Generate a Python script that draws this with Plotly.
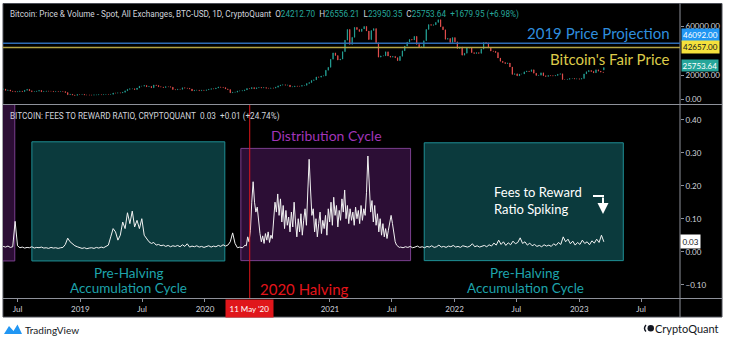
import pandas as pd
import plotly.graph_objects as go

# ---------------- data ----------------
# BTC-USD weekly closes (Sundays), starting 2018-05-20
week_start = "2018-05-20"
first_open = 8350
weekly_close = [
    # 2018
    8500, 7350, 7700, 6770, 6500, 6150, 6350, 6750, 6360, 7400, 8200, 7030, 6300,
    6400, 6700, 7300, 6250, 6500, 6710, 6630, 6600, 6300, 6500, 6340, 6480, 6350,
    5600, 3800, 4150, 3550, 3250, 3950, 3900,
    # 2019
    4050, 3550, 3550, 3500, 3450, 3650, 3680, 3850, 3820, 3950, 4020, 3980, 4100,
    5150, 5100, 5300, 5200, 5750, 7000, 8200, 8700, 8700, 8000, 9300, 10800, 10800,
    11400, 10300, 10600, 9500, 11800, 11400, 10300, 10100, 9700, 10400, 10350, 10000,
    8050, 7870, 8300, 8200, 9500, 9200, 9050, 8500, 6900, 7400, 7500, 7070, 7500, 7300,
    # 2020
    7750, 8200, 8700, 8600, 9300, 10150, 9900, 9650, 8550, 8000, 5350, 5800, 5900,
    6800, 6900, 7100, 7700, 8900, 8750, 9650, 8700, 9450, 9750, 9350, 9650, 9100,
    9050, 9300, 9200, 9950, 11050, 11700, 11900, 11650, 11700, 10250, 10350, 10900,
    10750, 10700, 11400, 11500, 13000, 13750, 15500, 16000, 18400, 18200, 19150,
    19300, 23900, 26300,
    # 2021
    33000, 38200, 36000, 32300, 33100, 39200, 48700, 57500, 45200, 51000, 59200,
    57400, 55800, 57900, 60000, 56200, 49100, 56600, 58200, 46500, 34700, 35700,
    35800, 39100, 35600, 34700, 35300, 34250, 31800, 35400, 39900, 43800, 47100,
    49300, 48800, 51800, 45200, 43000, 43200, 48200, 57500, 61500, 60900, 61300,
    63300, 65500, 59700, 57200, 49400, 50100, 46700, 50800,
    # 2022
    47300, 41800, 43100, 36300, 37900, 42400, 42200, 38400, 37700, 38400, 37800,
    41300, 46800, 46400, 42200, 39700, 39500, 38500, 34000, 31300, 30300, 29400,
    29900, 26600, 20500, 21000, 19300, 20800, 20800, 22600, 23300, 22900, 24300,
    21500, 19600, 19800, 21800, 19400, 18800, 19600, 19400, 19200, 19600, 20600,
    21000, 16300, 16300, 16450, 17100, 17100, 16750, 16850,
    # 2023
    16600, 17100, 20900, 22700, 23700, 22900, 21800, 24300, 23200, 22400, 22100,
]
# latest daily candle
last_day = "2023-03-14"
last_open, last_high, last_low, last_close = 24212.70, 26556.21, 23950.35, 25753.64
last_change, last_change_pct = 1679.95, 6.98

# Fees to reward ratio: weekly until the halving run-up
ratio_a_start = "2018-05-20"
ratio_a = [
    0.016, 0.014, 0.017, 0.013, 0.015, 0.092, 0.018, 0.012, 0.014, 0.011, 0.013,
    0.012, 0.015, 0.011, 0.013, 0.012, 0.014, 0.011, 0.012, 0.010, 0.013, 0.011,
    0.012, 0.010, 0.012, 0.013, 0.022, 0.041, 0.030, 0.024, 0.018, 0.015, 0.012,
    0.010, 0.012, 0.009, 0.011, 0.012, 0.010, 0.013, 0.011, 0.014, 0.012, 0.016,
    0.020, 0.045, 0.070, 0.060, 0.035, 0.050, 0.090, 0.070, 0.118, 0.085, 0.123,
    0.075, 0.095, 0.070, 0.100, 0.050, 0.038, 0.030, 0.025, 0.028, 0.020, 0.022,
    0.018, 0.020, 0.016, 0.019, 0.015, 0.018, 0.016, 0.019, 0.015, 0.021, 0.016,
    0.024, 0.014, 0.017, 0.015, 0.018, 0.014, 0.016, 0.013,
    0.015, 0.018, 0.014, 0.017, 0.015, 0.019, 0.016, 0.021, 0.017, 0.020, 0.030,
    0.057, 0.025, 0.012, 0.014,
]
# every 4 days through the post-halving fee spikes
ratio_b_start = "2020-04-15"
ratio_b = [
    0.012, 0.012, 0.015, 0.020, 0.018, 0.045, 0.030, 0.065, 0.150, 0.212,
    0.150, 0.120, 0.135, 0.080, 0.055, 0.030, 0.048, 0.025, 0.055, 0.035,
    0.060, 0.028, 0.050, 0.040, 0.100, 0.150, 0.120, 0.175, 0.110, 0.160,
    0.090, 0.140, 0.070, 0.125, 0.080, 0.105, 0.060, 0.120, 0.075, 0.150,
    0.090, 0.045, 0.100, 0.060, 0.115, 0.050, 0.095, 0.130, 0.080, 0.180,
    0.280, 0.190, 0.110, 0.130, 0.060, 0.100, 0.045, 0.085, 0.120, 0.055,
    0.095, 0.070, 0.110, 0.050, 0.130, 0.090, 0.150, 0.080, 0.165, 0.110,
    0.140, 0.075, 0.125, 0.095, 0.160, 0.120, 0.187, 0.100, 0.140, 0.085,
    0.130, 0.095, 0.120, 0.080, 0.135, 0.100, 0.125, 0.085, 0.140, 0.095,
    0.130, 0.110, 0.180, 0.290, 0.200, 0.120, 0.155, 0.090, 0.140, 0.080,
    0.115, 0.060, 0.100, 0.050, 0.085, 0.045, 0.070, 0.040, 0.065, 0.090,
    0.110, 0.085, 0.050, 0.030, 0.020, 0.016, 0.013,
]
# weekly again afterwards
ratio_c_start = "2021-07-27"
ratio_c = [
    0.014, 0.012, 0.015, 0.013, 0.016, 0.012, 0.014, 0.017, 0.013, 0.015,
    0.012, 0.016, 0.014, 0.018, 0.013, 0.015, 0.020, 0.014, 0.016, 0.013,
    0.017, 0.015, 0.019, 0.014, 0.016, 0.013, 0.018, 0.015, 0.014, 0.017,
    0.024, 0.015, 0.018, 0.014, 0.016, 0.019, 0.015, 0.021, 0.017, 0.026,
    0.020, 0.035, 0.022, 0.030, 0.019, 0.027, 0.021, 0.032, 0.024, 0.028,
    0.042, 0.025, 0.030, 0.020, 0.026, 0.018, 0.022, 0.016, 0.019, 0.015,
    0.021, 0.017, 0.020, 0.016, 0.024, 0.019, 0.028, 0.022, 0.045, 0.030,
    0.038, 0.024, 0.032, 0.020, 0.028, 0.022, 0.035, 0.025, 0.030, 0.021,
    0.033, 0.026, 0.038, 0.028, 0.050, 0.030,
]
ratio_change, ratio_change_pct = 0.01, 24.74

# horizontal price levels
projection_2019 = 46092.00
fair_price = 42657.00
halving_date = "2020-05-11"

# cycle boxes on the ratio pane: (start, end, bottom, top, style)
cycle_boxes = [
    ("2018-03-01", "2018-06-23", -0.028, 0.60, "dist"),
    ("2018-08-12", "2020-02-28", -0.028, 0.333, "acc"),
    ("2020-04-15", "2021-08-25", -0.027, 0.313, "dist"),
    ("2021-10-04", "2023-05-10", -0.027, 0.330, "acc"),
]

x_ticks = ["2018-07-01", "2019-01-01", "2019-07-01", "2020-01-01", "2021-01-01",
           "2021-07-01", "2022-01-01", "2022-07-01", "2023-01-01", "2023-07-01"]
x_tick_text = ["Jul", "2019", "Jul", "2020", "2021", "Jul", "2022", "Jul", "2023", "Jul"]
price_ticks = [0, 20000, 60000]
ratio_ticks = [-0.10, 0.00, 0.10, 0.20, 0.30, 0.40]

# ---------------- geometry helpers ----------------
W, H = 731, 339
PL, PR, PT, PB = 3, 680, 4, 298          # plot area in pixels


def fx(px):
    return (px - PL) / (PR - PL)


def fy(py):
    return (PB - py) / (PB - PT)


FONT = "Lato"
SMALL = "Roboto"
AXIS_TXT = "#d1d4dc"
GRID_LINE = "#8e919a"
UP, DOWN = "#26a69a", "#ef5350"

# ---------------- traces ----------------
week_dates = list(pd.date_range(week_start, periods=len(weekly_close), freq="7D"))
opens = [first_open] + weekly_close[:-1]
c_dates = week_dates + [pd.Timestamp(last_day)]
c_open = opens + [last_open]
c_close = weekly_close + [last_close]
c_high = [max(o, c) for o, c in zip(opens, weekly_close)] + [last_high]
c_low = [min(o, c) for o, c in zip(opens, weekly_close)] + [last_low]

ratio_dates = (list(pd.date_range(ratio_a_start, periods=len(ratio_a), freq="7D"))
               + list(pd.date_range(ratio_b_start, periods=len(ratio_b), freq="4D"))
               + list(pd.date_range(ratio_c_start, periods=len(ratio_c), freq="7D")))
ratio_vals = ratio_a + ratio_b + ratio_c

fig = go.Figure()
fig.add_trace(go.Candlestick(
    x=c_dates, open=c_open, high=c_high, low=c_low, close=c_close,
    xaxis="x", yaxis="y2",
    increasing=dict(line=dict(color=UP, width=0.8), fillcolor=UP),
    decreasing=dict(line=dict(color=DOWN, width=0.8), fillcolor=DOWN),
    whiskerwidth=0, hoverinfo="skip",
))
fig.add_trace(go.Scatter(
    x=ratio_dates, y=ratio_vals, mode="lines", xaxis="x", yaxis="y",
    line=dict(color="#f2f2f2", width=1), hoverinfo="skip",
))

# ---------------- shapes ----------------
shapes = []
# dark chart panel behind everything
shapes.append(dict(type="rect", xref="paper", yref="paper", layer="below",
                   x0=fx(3), x1=fx(722), y0=fy(317), y1=fy(3.5),
                   fillcolor="black", line=dict(color="#4a4d55", width=1)))
# pane divider, time axis line, price-scale separator
shapes.append(dict(type="line", xref="paper", yref="paper", x0=fx(3), x1=fx(722),
                   y0=fy(104.5), y1=fy(104.5), line=dict(color=GRID_LINE, width=1)))
shapes.append(dict(type="line", xref="paper", yref="paper", x0=fx(3), x1=fx(722),
                   y0=fy(298.5), y1=fy(298.5), line=dict(color=GRID_LINE, width=1)))
shapes.append(dict(type="line", xref="paper", yref="paper", x0=fx(680), x1=fx(680),
                   y0=fy(317), y1=fy(3.5), line=dict(color=GRID_LINE, width=1)))

box_style = {
    "acc": dict(fillcolor="#0b3a3d", line=dict(color="#1f8f95", width=1)),
    "dist": dict(fillcolor="#2c0e35", line=dict(color="#7a3f8e", width=1)),
}
for x0, x1, y0, y1, kind in cycle_boxes:
    shapes.append(dict(type="rect", xref="x", yref="y", x0=x0, x1=x1, y0=y0, y1=y1,
                       layer="below", **box_style[kind]))

# halving marker across the ratio pane
shapes.append(dict(type="line", xref="x", yref="paper", x0=halving_date, x1=halving_date,
                   y0=0, y1=fy(105), line=dict(color="#e0161b", width=1)))
# price levels
shapes.append(dict(type="line", xref="paper", yref="y2", x0=0, x1=1,
                   y0=projection_2019, y1=projection_2019,
                   line=dict(color="#2f6db5", width=1.5)))
shapes.append(dict(type="line", xref="paper", yref="y2", x0=0, x1=1,
                   y0=fair_price, y1=fair_price, line=dict(color="#b3a444", width=1.5)))
# bent arrow stem
shapes.append(dict(type="line", xref="paper", yref="paper", x0=fx(593), x1=fx(604),
                   y0=fy(196), y1=fy(196), line=dict(color="white", width=2)))

# footer logos
tv_path = "M {} {} L {} {} L {} {} L {} {} L {} {} L {} {} Z".format(
    fx(4), fy(334), fx(9), fy(326), fx(13.5), fy(331), fx(17.5), fy(324.5),
    fx(22), fy(334), fx(4), fy(334))
shapes.append(dict(type="path", xref="paper", yref="paper", path=tv_path,
                   fillcolor="#2196f3", line=dict(width=0)))
shapes.append(dict(type="circle", xref="paper", yref="paper",
                   x0=fx(647.5), x1=fx(654), y0=fy(331.5), y1=fy(325),
                   fillcolor="#131722", line=dict(width=0)))
shapes.append(dict(type="path", xref="paper", yref="paper",
                   path="M {} {} Q {} {} {} {} L {} {} Q {} {} {} {} Z".format(
                       fx(645.5), fy(324.5), fx(642), fy(328.25), fx(645.5), fy(332),
                       fx(646.5), fy(331), fx(644), fy(328.25), fx(646.5), fy(325.5)),
                   fillcolor="#131722", line=dict(width=0)))

# ---------------- annotations ----------------
ann = []


def label(text, x, y, color, size, xanchor="center", yanchor="middle", family=FONT, **kw):
    d = dict(text=text, x=x, y=y, xref=kw.pop("xref", "paper"), yref=kw.pop("yref", "paper"),
             showarrow=False, xanchor=xanchor, yanchor=yanchor,
             font=dict(family=family, size=size, color=color))
    d.update(kw)
    ann.append(d)


def green(v):
    return '<span style="color:%s">%s</span>' % (UP, v)


header_top = ("Bitcoin: Price &amp; Volume - Spot, All Exchanges, BTC-USD, 1D, CryptoQuant"
              "&nbsp; O%s&nbsp; H%s&nbsp; L%s&nbsp; C%s&nbsp; %s" % (
                  green("%.2f" % last_open), green("%.2f" % last_high),
                  green("%.2f" % last_low), green("%.2f" % last_close),
                  green("+%.2f (+%.2f%%)" % (last_change, last_change_pct))))
label(header_top, fx(8), fy(14.5), AXIS_TXT, 8.2, xanchor="left", family=SMALL)
label("BITCOIN: FEES TO REWARD RATIO, CRYPTOQUANT&nbsp; %.2f&nbsp; +%.2f (+%.2f%%)" % (
    ratio_vals[-1], ratio_change, ratio_change_pct),
    fx(8), fy(116), AXIS_TXT, 8.2, xanchor="left", family=SMALL)

label("2019 Price Projection", fx(672), fy(33), "#2f8ede", 15, xanchor="right")
label("Bitcoin's Fair Price", fx(672), fy(59), "#dccb4a", 15, xanchor="right")

label("Distribution Cycle", fx(326), fy(135), "#a035b8", 14)
label("Pre-Halving", fx(128.5), fy(273), "#1ea3ab", 13.5)
label("Accumulation Cycle", fx(128.5), fy(287.5), "#1ea3ab", 13.5)
label("Pre-Halving", fx(525), fy(273), "#1ea3ab", 13.5)
label("Accumulation Cycle", fx(525), fy(287.5), "#1ea3ab", 13.5)
label("2020 Halving", fx(258), fy(288.5), "#e3141b", 15, xanchor="left")
label("Fees to Reward<br>Ratio Spiking", fx(492), fy(200.5), "white", 13,
      xanchor="left", align="left")
ann.append(dict(x=fx(603), y=fy(214), xref="paper", yref="paper", ax=0, ay=-18,
                showarrow=True, arrowhead=2, arrowsize=1.1, arrowwidth=2,
                arrowcolor="white", text=""))

# price-scale value tags
label("%.2f" % projection_2019, fx(681), projection_2019, "white", 8, xanchor="left",
      yref="y2", yshift=8, bgcolor="#2196f3", borderpad=1)
label("%.2f" % fair_price, fx(681), fair_price, "#131722", 8, xanchor="left",
      yref="y2", bgcolor="#f5e13c", borderpad=1)
label("%.2f" % last_close, fx(681), last_close, "white", 8, xanchor="left",
      yref="y2", yshift=3, bgcolor=UP, borderpad=0.5)
label("%.2f" % ratio_vals[-1], fx(680), ratio_vals[-1], "#131722", 8, xanchor="left",
      yref="y", bgcolor="white", borderpad=1.5)
# halving date tag on the time scale
label("11 May '20", halving_date, fy(308.5), "white", 8, xref="x",
      bgcolor="#e0161b", borderpad=3.5)

# footer
label("TradingView", fx(23), fy(329.5), "#131722", 10, xanchor="left")
label("CryptoQuant", fx(721), fy(328.5), "#131722", 11, xanchor="right")

# ---------------- layout ----------------
axis_font = dict(family=FONT, size=8, color=AXIS_TXT)
fig.update_layout(
    width=W, height=H,
    margin=dict(l=PL, r=W - PR, t=PT, b=H - PB, pad=0),
    paper_bgcolor="white", plot_bgcolor="black",
    showlegend=False, boxgap=0.5,
    shapes=shapes, annotations=ann,
    xaxis=dict(type="date", range=["2018-05-19 12:00", "2023-10-23"],
               tickvals=x_ticks, ticktext=x_tick_text, tickfont=axis_font,
               ticks="outside", ticklen=3, tickcolor=GRID_LINE,
               showgrid=False, zeroline=False, showline=False,
               rangeslider=dict(visible=False), fixedrange=True),
    yaxis=dict(domain=[0, fy(105)], range=[-0.1403, 0.4445], side="right",
               tickvals=ratio_ticks, tickformat=".2f", tickfont=axis_font,
               ticks="outside", ticklen=3, tickcolor=GRID_LINE,
               showgrid=False, zeroline=False, showline=False),
    yaxis2=dict(domain=[fy(104), 1], range=[-3868, 78436], side="right", anchor="x",
                tickvals=price_ticks, tickformat=".2f", tickfont=axis_font,
                ticks="outside", ticklen=3, tickcolor=GRID_LINE,
                showgrid=False, zeroline=False, showline=False),
)

fig.write_html("out.html")
